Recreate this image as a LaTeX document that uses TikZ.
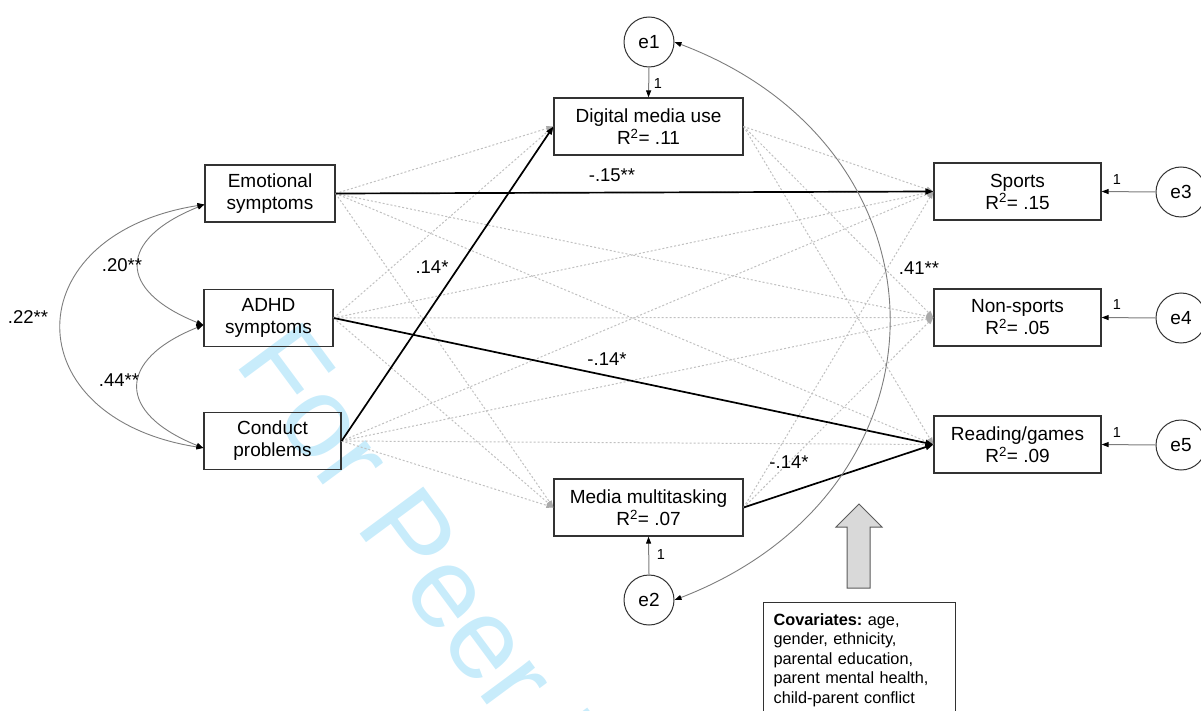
\documentclass[tikz,border=0pt]{standalone}
\usepackage{fontspec}
\setmainfont{Liberation Sans}
\usetikzlibrary{arrows.meta,calc}
\definecolor{wm}{RGB}{200,236,251}
\definecolor{dotc}{RGB}{192,192,192}
\definecolor{dottip}{RGB}{170,170,170}
\definecolor{arcc}{RGB}{125,125,125}
\definecolor{boxc}{RGB}{50,50,50}
\definecolor{bigarrow}{RGB}{217,217,217}
\frenchspacing
\begin{document}
\begin{tikzpicture}[x=1pt,y=-1pt,
  box/.style={draw=boxc, line width=1.2pt, minimum width=#1, minimum height=57, inner sep=0, align=center, font=\fontsize{19}{22}\selectfont},
  err/.style={circle, draw=boxc, line width=1pt, minimum size=50, inner sep=0, font=\fontsize{19}{22}\selectfont},
  lab/.style={inner sep=1, font=\fontsize{18.5}{20}\selectfont},
  onelab/.style={inner sep=1, font=\fontsize{14.5}{16}\selectfont},
  dotarr/.style={draw=dotc, line width=1pt, dash pattern=on 2pt off 2pt, -{Triangle[length=7,width=5,color=dottip,fill=dottip]}},
  patharr/.style={draw=black, line width=1.7pt, -{Triangle[length=8,width=6]}},
  covarr/.style={draw=arcc, line width=0.9pt, {Triangle[length=7,width=5,color=black,fill=black]}-{Triangle[length=7,width=5,color=black,fill=black]}},
  earr/.style={draw=arcc, line width=1pt, -{Triangle[length=7,width=5,color=black,fill=black]}}
]
\useasboundingbox (0,0) rectangle (1201,711);
\clip (0,0) rectangle (1201,711);

% watermark
\node[rotate=-53.5, anchor=base west, text=wm, inner sep=0, font=\fontsize{115}{115}\selectfont] (wmark) at (233,362) {For Peer Review};

% nodes
\node[box=130] (emo) at (270,193.5) {Emotional\\symptoms};
\node[box=129] (adhd) at (268.5,318) {ADHD\\symptoms};
\node[box=137] (cond) at (272.5,441) {Conduct\\problems};
\node[box=189] (dig) at (648.5,126.5) {Digital media use\\R\textsuperscript{2}= .11};
\node[box=189] (mm) at (648.5,507.5) {Media multitasking\\R\textsuperscript{2}= .07};
\node[box=167] (sp) at (1017.5,191.5) {Sports\\R\textsuperscript{2}= .15};
\node[box=167] (ns) at (1017.5,317.5) {Non-sports\\R\textsuperscript{2}= .05};
\node[box=167] (rg) at (1017.5,444.5) {Reading/games\\R\textsuperscript{2}= .09};

\node[err] (e1) at (649,42) {e1};
\node[err] (e2) at (649,600) {e2};
\node[err] (e3) at (1181,192) {e3};
\node[err] (e4) at (1181,318) {e4};
\node[err] (e5) at (1181,445) {e5};

\node[draw=boxc, line width=1.2pt, anchor=north west, text width=172, inner xsep=10, inner ysep=11, align=left, font=\fontsize{16.3}{19.5}\selectfont] (cov) at (763,602) {\textbf{Covariates:} age,\\gender, ethnicity,\\parental education,\\parent mental health,\\child-parent conflict};

% big gray arrow
\draw[fill=bigarrow, draw=boxc!80, line width=1pt] (847,588) -- (847,527) -- (836,527) -- (859,504) -- (882,527) -- (870,527) -- (870,588) -- cycle;

% dotted paths
\foreach \s in {emo,adhd,cond}{
  \foreach \t in {dig,mm,sp,ns,rg}{
    \draw[dotarr] (\s.east) -- (\t.west);
  }
}
\foreach \s in {dig,mm}{
  \foreach \t in {sp,ns,rg}{
    \draw[dotarr] (\s.east) -- (\t.west);
  }
}

% significant paths
\draw[patharr] (emo.east) -- (sp.west);
\draw[patharr] (adhd.east) -- (rg.west);
\draw[patharr] (cond.east) -- (dig.west);
\draw[patharr] (mm.east) -- (rg.west);

\node[lab] (l1) at (612,175) {-.15**};
\node[lab] (l2) at (432,267) {.14*};
\node[lab] (l3) at (607,359) {-.14*};
\node[lab] (l4) at (789,462) {-.14*};
\node[lab] (l5) at (919,268) {.41**};

% covariances among predictors
\coordinate (emoL) at ($(emo.west)+(0,11)$);
\coordinate (adhdL) at ($(adhd.west)+(0,7)$);
\coordinate (condL) at ($(cond.west)+(0,7)$);
\draw[covarr] (emoL) .. controls +(-87,35) and +(-87,-35) .. (adhdL);
\draw[covarr] (adhdL) .. controls +(-87,35) and +(-87,-35) .. (condL);
\draw[covarr] (emoL) .. controls +(-190,30) and +(-190,-30) .. (condL);
\node[lab] (c1) at (122,265) {.20**};
\node[lab] (c2) at (119,380) {.44**};
\node[lab] (c3) at (28,317) {.22**};

% residual covariance
\draw[covarr] (e1.east) .. controls (960,150) and (960,490) .. (e2.east);

% error arrows
\draw[earr] (e1.south) -- (dig.north);
\draw[earr] (e2.north) -- (mm.south);
\draw[earr] (e3.west) -- (sp.east);
\draw[earr] (e4.west) -- (ns.east);
\draw[earr] (e5.west) -- (rg.east);
\node[onelab] (o1) at (658,84) {1};
\node[onelab] (o2) at (661,555) {1};
\node[onelab] (o3) at (1117,180) {1};
\node[onelab] (o4) at (1117,305) {1};
\node[onelab] (o5) at (1117,433) {1};
\end{tikzpicture}
\end{document}
